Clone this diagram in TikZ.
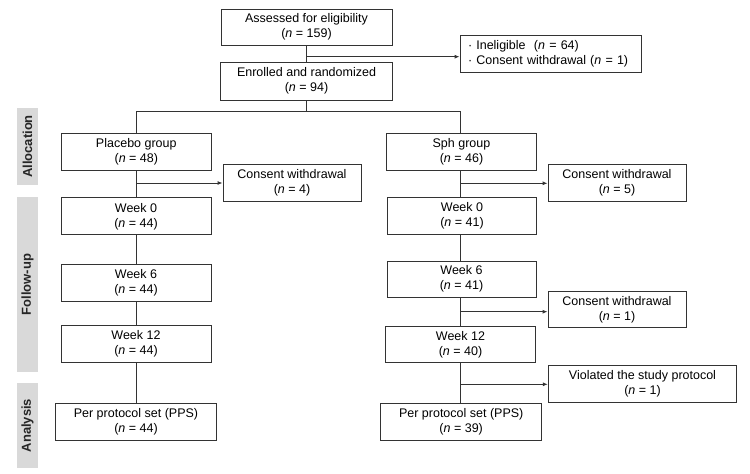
\documentclass[tikz,border=0pt]{standalone}
\usepackage{fontspec}
\setmainfont{Liberation Sans}
\usetikzlibrary{arrows.meta}
\definecolor{linecol}{HTML}{333333}
\definecolor{barcol}{HTML}{D9D9D9}
\definecolor{bartext}{HTML}{262626}
\begin{document}
\begin{tikzpicture}[x=1pt,y=-1pt,
  box/.style={draw=linecol, line width=0.9pt, fill=white, align=center, inner sep=0pt,
    minimum height=37pt, font=\fontsize{12.5}{15}\selectfont},
  line/.style={draw=linecol, line width=0.9pt},
  arr/.style={line, -{Latex[length=5pt,width=4pt]}},
  bar/.style={fill=barcol, draw=none},
  barlabel/.style={rotate=90, font=\fontsize{13}{15}\selectfont\bfseries, text=bartext}
]
\useasboundingbox (0,0) rectangle (750,474);

% side bars
\fill[barcol] (17,108) rectangle (38,185);
\fill[barcol] (17,197) rectangle (38,372);
\fill[barcol] (17,383) rectangle (38,468);
\node[barlabel] (lalloc) at (27.5,146.5) {Allocation};
\node[barlabel] (lfollow) at (27.5,284.5) {Follow-up};
\node[barlabel] (lanal) at (27.5,425.5) {Analysis};

% top
\node[box, minimum width=171pt, minimum height=36pt] (assess) at (306.5,27) {Assessed for eligibility\\(\textit{n} = 159)};
\node[box, minimum width=172pt, minimum height=38pt] (enrol) at (306.5,81) {Enrolled and randomized\\(\textit{n} = 94)};
\node[box, minimum width=181.5pt, minimum height=36.6pt, text width=165.5pt, align=left] (inel) at (550.75,54)
  {·\ Ineligible\ \ (\textit{n} = 64)\\·\ Consent withdrawal (\textit{n} = 1)};

% placebo column
\node[box, minimum width=149.5pt] (placebo) at (136.3,152) {Placebo group\\(\textit{n} = 48)};
\node[box, minimum width=150pt] (w0p) at (136,216.3) {Week 0\\(\textit{n} = 44)};
\node[box, minimum width=150pt] (w6p) at (136,282.5) {Week 6\\(\textit{n} = 44)};
\node[box, minimum width=150pt] (w12p) at (136,343.5) {Week 12\\(\textit{n} = 44)};
\node[box, minimum width=161pt] (ppsp) at (136,421.5) {Per protocol set (PPS)\\(\textit{n} = 44)};
\node[box, minimum width=138pt] (cw4) at (292,182.5) {Consent withdrawal\\(\textit{n} = 4)};

% sph column
\node[box, minimum width=149.7pt] (sph) at (461.5,152) {Sph group\\(\textit{n} = 46)};
\node[box, minimum width=149pt] (w0s) at (462,215.5) {Week 0\\(\textit{n} = 41)};
\node[box, minimum width=149pt, minimum height=36.3pt] (w6s) at (461.5,279.2) {Week 6\\(\textit{n} = 41)};
\node[box, minimum width=150pt, minimum height=36.7pt] (w12s) at (460.5,344.3) {Week 12\\(\textit{n} = 40)};
\node[box, minimum width=161pt] (ppss) at (461.2,421.7) {Per protocol set (PPS)\\(\textit{n} = 39)};
\node[box, minimum width=138pt] (cw5) at (617,182.5) {Consent withdrawal\\(\textit{n} = 5)};
\node[box, minimum width=138pt, minimum height=36pt] (cw1) at (617,309.7) {Consent withdrawal\\(\textit{n} = 1)};
\node[box, minimum width=188.4pt, minimum height=36.6pt] (viol) at (642.5,384) {Violated the study protocol\\(\textit{n} = 1)};

% connectors top
\draw[line] (assess.south) -- (enrol.north);
\coordinate (a1) at (306.5,56.7);
\draw[arr] (a1) -- (a1 -| inel.west);
\coordinate (split) at (306.5,111.5);
\coordinate (pc) at (136,0);
\coordinate (sc) at (460.7,0);
\draw[line] (enrol.south) -- (split);
\draw[line] (pc |- placebo.north) -- (pc |- split) -- (sc |- split) -- (sc |- sph.north);

% placebo chain
\draw[line] (pc |- placebo.south) -- (pc |- w0p.north);
\draw[line] (pc |- w0p.south) -- (pc |- w6p.north);
\draw[line] (pc |- w6p.south) -- (pc |- w12p.north);
\draw[line] (pc |- w12p.south) -- (pc |- ppsp.north);
\coordinate (b1) at (136,183);
\draw[arr] (b1) -- (b1 -| cw4.west);

% sph chain
\draw[line] (sc |- sph.south) -- (sc |- w0s.north);
\draw[line] (sc |- w0s.south) -- (sc |- w6s.north);
\draw[line] (sc |- w6s.south) -- (sc |- w12s.north);
\draw[line] (sc |- w12s.south) -- (sc |- ppss.north);
\coordinate (b2) at (460.7,183.3);
\draw[arr] (b2) -- (b2 -| cw5.west);
\coordinate (b3) at (460.7,311.7);
\draw[arr] (b3) -- (b3 -| cw1.west);
\coordinate (b4) at (460.7,384.3);
\draw[arr] (b4) -- (b4 -| viol.west);
\end{tikzpicture}
\end{document}
